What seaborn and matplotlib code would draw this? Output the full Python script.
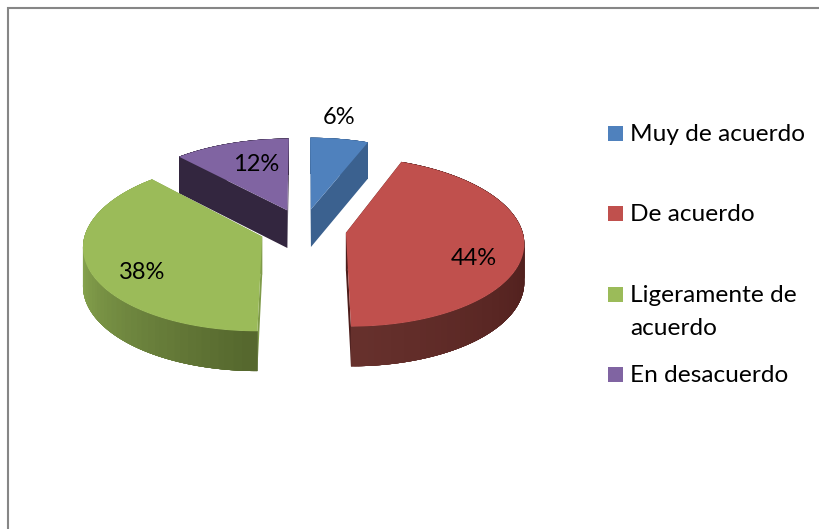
import numpy as np
import matplotlib
matplotlib.use("Agg")
import matplotlib.pyplot as plt
import seaborn as sns

sns.set_theme(style="white")
plt.rcParams['font.family'] = ['Lato', 'DejaVu Sans']

# Data
categories = ['Muy de acuerdo', 'De acuerdo', 'Ligeramente de\nacuerdo', 'En desacuerdo']
values = [6, 44, 38, 12]
value_labels = ['6%', '44%', '38%', '12%']

# Colours
top_colors = ['#4f81bd', '#c0504d', '#9bbb59', '#8064a2']
radial_colors = ['#3b618f', '#4d1d1b', '#7f9b49', '#33263f']
rim_front = ['#3b618f', '#66302c', '#56682e', '#33263f']
rim_side = ['#3b618f', '#4d1d1b', '#8fae54', '#33263f']

# Pie geometry, in output pixels
cx, cy = 303, 229
rx, ry = 176, 83
depth = 38
persp = 0.105
explode = 0.247

# Where the texts and legend keys go
label_x = [339, 474, 142, 256]
label_base = [124, 265, 279, 171]
key_top = [126, 206, 287, 367]
text_base = [141, 221, 302, 382]
line_gap = 33


def project(X, Y, z=0.0):
    w = 1 + persp * Y
    sx = cx + rx * X / w
    sy = cy - ry * Y / w + z * depth / (1 + 0.4 * persp * Y)
    return sx, sy


fig = plt.figure(figsize=(8.2, 5.29), dpi=100)
ax = fig.add_axes([0, 0, 1, 1])
ax.set_xlim(0, 820)
ax.set_ylim(529, 0)
ax.axis('off')

# Chart border, only top and left show up
ax.plot([8, 8, 820], [529, 7.5, 7.5], color='#868686', lw=1.5, solid_joinstyle='miter')

edges = np.concatenate([[0], np.cumsum(values)]) / np.sum(values) * 2 * np.pi
# Draw back slices first
for i in [3, 0, 2, 1]:
    a0, a1 = edges[i], edges[i + 1]
    mid = (a0 + a1) / 2
    ox, oy = explode * np.sin(mid), explode * np.cos(mid)
    theta = np.linspace(a0, a1, 160)
    rim_X = ox + np.sin(theta)
    rim_Y = oy + np.cos(theta)

    # radial walls
    for a in (a0, a1):
        ex, ey = ox + np.sin(a), oy + np.cos(a)
        p = [project(ox, oy), project(ex, ey), project(ex, ey, 1), project(ox, oy, 1)]
        ax.fill(*zip(*p), color=radial_colors[i], lw=0, zorder=2)

    # outer wall, shaded from the front of the pie to the side
    # each piece runs over the next ones so no seams show
    shades = sns.blend_palette([rim_front[i], rim_side[i]], 40)
    n = len(theta)
    order = np.argsort(-np.abs(np.degrees(theta) - 180))
    for j in order:
        t = np.clip(abs(np.degrees(theta[j]) - 180) / 90, 0, 1)
        col = shades[int(t * 39)]
        k0, k1 = max(j - 3, 0), min(j + 4, n)
        top_part = [project(rim_X[k], rim_Y[k]) for k in range(k0, k1)]
        low_part = [project(rim_X[k], rim_Y[k], 1) for k in range(k1 - 1, k0 - 1, -1)]
        ax.fill(*zip(*(top_part + low_part)), color=col, lw=0, zorder=2)

    # top face
    top_x, top_y = project(np.r_[ox, rim_X], np.r_[oy, rim_Y])
    ax.fill(top_x, top_y, color=top_colors[i], lw=0, zorder=3)

    ax.text(label_x[i], label_base[i], value_labels[i], ha='center', va='baseline',
            fontsize=17, color='black', zorder=4)

# Legend
for i in range(len(categories)):
    ax.add_patch(plt.Rectangle((608, key_top[i]), 15, 15, color=top_colors[i], lw=0))
    for n_line, line in enumerate(categories[i].split('\n')):
        ax.text(630, text_base[i] + n_line * line_gap, line, ha='left', va='baseline',
                fontsize=17.6, color='black')

fig.savefig('out.png', dpi=100)
